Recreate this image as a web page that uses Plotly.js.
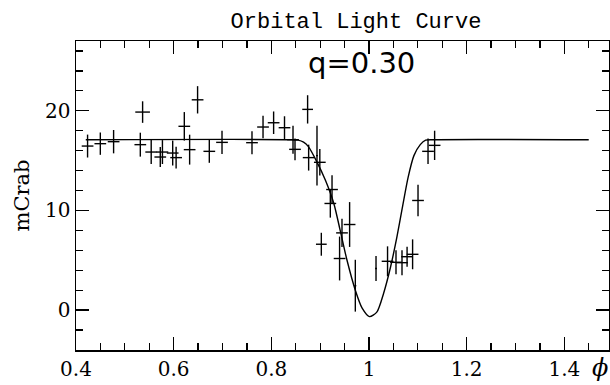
<!DOCTYPE html>
<html>
<head>
<meta charset="utf-8">
<script src="https://cdn.plot.ly/plotly-3.0.1.min.js"></script>
<style>
  html, body { margin: 0; padding: 0; background: #fff; }
  #chart { width: 610px; height: 385px; }
</style>
</head>
<body>
<div id="chart"></div>
<script>
// Orbital phase of each binned measurement
const phase = [0.4237, 0.4498, 0.477, 0.5317, 0.5364, 0.554, 0.5726, 0.577, 0.598, 0.605,
               0.6218, 0.6327, 0.649, 0.673, 0.699, 0.7604, 0.783, 0.8047, 0.827, 0.8444,
               0.8485, 0.8743, 0.8764, 0.8935, 0.8993, 0.9024, 0.9208, 0.9243, 0.9398, 0.9447,
               0.9603, 0.972, 1.0144, 1.038, 1.0553, 1.0676, 1.078, 1.0893, 1.1004, 1.1209, 1.1344];
// Flux in mCrab
const flux = [16.46, 16.7, 16.9, 16.6, 19.87, 15.86, 15.36, 15.86, 15.76, 15.3,
              18.44, 16.1, 21.1, 15.93, 16.83, 16.8, 18.37, 18.8, 18.3, 17.1,
              16.13, 20.14, 15.3, 15.5, 14.83, 6.61, 10.7, 12.1, 5.18, 7.75,
              8.59, 2.45, 4.18, 4.9, 4.8, 4.76, 5.36, 5.6, 11.0, 15.93, 16.53];
// 1-sigma flux uncertainty
const fluxErr = [1.15, 1.12, 1.17, 1.2, 1.08, 1.2, 1.0, 1.2, 1.25, 1.1,
                 1.43, 1.5, 1.37, 1.15, 1.17, 1.15, 1.12, 1.13, 1.15, 1.4,
                 1.1, 1.42, 1.3, 3.0, 1.33, 1.15, 1.42, 1.42, 2.2, 1.42,
                 2.25, 2.6, 1.25, 1.5, 1.2, 1.25, 1.0, 1.5, 1.58, 1.28, 1.47];
// Half-width of each phase bin
const phaseErr = [0.012, 0.012, 0.012, 0.012, 0.015, 0.012, 0.012, 0.012, 0.012, 0.012,
                  0.012, 0.012, 0.012, 0.012, 0.012, 0.012, 0.012, 0.012, 0.012, 0.012,
                  0.012, 0.011, 0.012, 0.002, 0.012, 0.011, 0.012, 0.012, 0.012, 0.012,
                  0.012, 0.002, 0.002, 0.012, 0.012, 0.012, 0.012, 0.012, 0.012, 0.012, 0.012];

// Eclipse model for mass ratio q = 0.30
const modelPhase = [0.42, 0.84, 0.855, 0.866, 0.876, 0.893, 0.911, 0.928, 0.941, 0.955,
                    0.972, 0.986, 1.001, 1.016, 1.030, 1.044, 1.057, 1.068, 1.080, 1.092,
                    1.105, 1.116, 1.13, 1.45];
const modelFlux = [17.1, 17.1, 17.05, 16.85, 16.4, 14.9, 13.0, 10.7, 8.0, 5.0,
                   2.0, 0.2, -0.65, -0.2, 1.7, 4.3, 7.3, 10.2, 13.3, 15.5,
                   16.6, 17.05, 17.1, 17.1];

const xTickVals = [0.4, 0.6, 0.8, 1.0, 1.2, 1.4];
const xTickText = ['0.4', '0.6', '0.8', '1', '1.2', '1.4'];
const yTickVals = [0, 10, 20];
const yTickText = ['0', '10', '20'];

const traces = [
  {
    x: modelPhase, y: modelFlux, type: 'scatter', mode: 'lines',
    line: { color: '#000', width: 1.4, shape: 'spline', smoothing: 0.7 },
    hoverinfo: 'skip', showlegend: false
  },
  {
    x: phase, y: flux, type: 'scatter', mode: 'markers',
    marker: { size: 1, color: 'rgba(0,0,0,0)' },
    error_y: { type: 'data', array: fluxErr, visible: true, color: '#000', thickness: 1.4, width: 0 },
    error_x: { type: 'data', array: phaseErr, visible: true, color: '#000', thickness: 1.4, width: 0 },
    showlegend: false
  }
];

const tickFont = { family: 'DejaVu Serif', size: 20, color: '#000' };

const layout = {
  width: 610, height: 385,
  margin: { l: 76, r: 1, t: 41, b: 35 },
  paper_bgcolor: '#fff', plot_bgcolor: '#fff',
  showlegend: false,
  title: {
    text: 'Orbital Light Curve',
    font: { family: 'Liberation Mono', size: 22, color: '#000' },
    xref: 'container', x: 356 / 610, xanchor: 'center',
    yref: 'container', y: 1 - 20 / 385, yanchor: 'middle'
  },
  xaxis: {
    range: [0.4, 1.4915],
    showgrid: false, zeroline: false,
    showline: true, linecolor: '#000', linewidth: 1.5, mirror: 'allticks',
    ticks: 'inside', ticklen: 13, tickwidth: 1.3, tickcolor: '#000',
    tickvals: xTickVals, ticktext: xTickText,
    tickfont: tickFont,
    minor: { dtick: 0.05, tick0: 0.4, ticks: 'inside', ticklen: 7, tickwidth: 1.3, tickcolor: '#000', showgrid: false }
  },
  yaxis: {
    range: [-4, 27],
    showgrid: false, zeroline: false,
    showline: true, linecolor: '#000', linewidth: 1.5, mirror: 'allticks',
    ticks: 'inside', ticklen: 13, tickwidth: 1.3, tickcolor: '#000',
    tickvals: yTickVals, ticktext: yTickText,
    tickfont: tickFont,
    minor: { dtick: 2, tick0: 0, ticks: 'inside', ticklen: 7, tickwidth: 1.3, tickcolor: '#000', showgrid: false }
  },
  annotations: [
    {
      text: 'q=0.30', xref: 'paper', yref: 'paper',
      x: (361 - 76) / 533, y: (350 - 63) / 309, xanchor: 'center', yanchor: 'middle',
      showarrow: false, font: { family: 'DejaVu Sans', size: 29, color: '#000' }
    },
    {
      text: 'mCrab', xref: 'paper', yref: 'paper', textangle: -90,
      x: (21 - 76) / 533, y: 0.5, xanchor: 'center', yanchor: 'middle',
      showarrow: false, font: { family: 'DejaVu Serif', size: 21, color: '#000' }
    },
    {
      text: '<i>ϕ</i>', xref: 'paper', yref: 'paper',
      x: (600 - 76) / 533, y: (350 - 368) / 309, xanchor: 'center', yanchor: 'middle',
      showarrow: false, font: { family: 'DejaVu Serif', size: 24, color: '#000' }
    }
  ]
};

Plotly.newPlot('chart', traces, layout, { displayModeBar: false, staticPlot: true });
</script>
</body>
</html>
